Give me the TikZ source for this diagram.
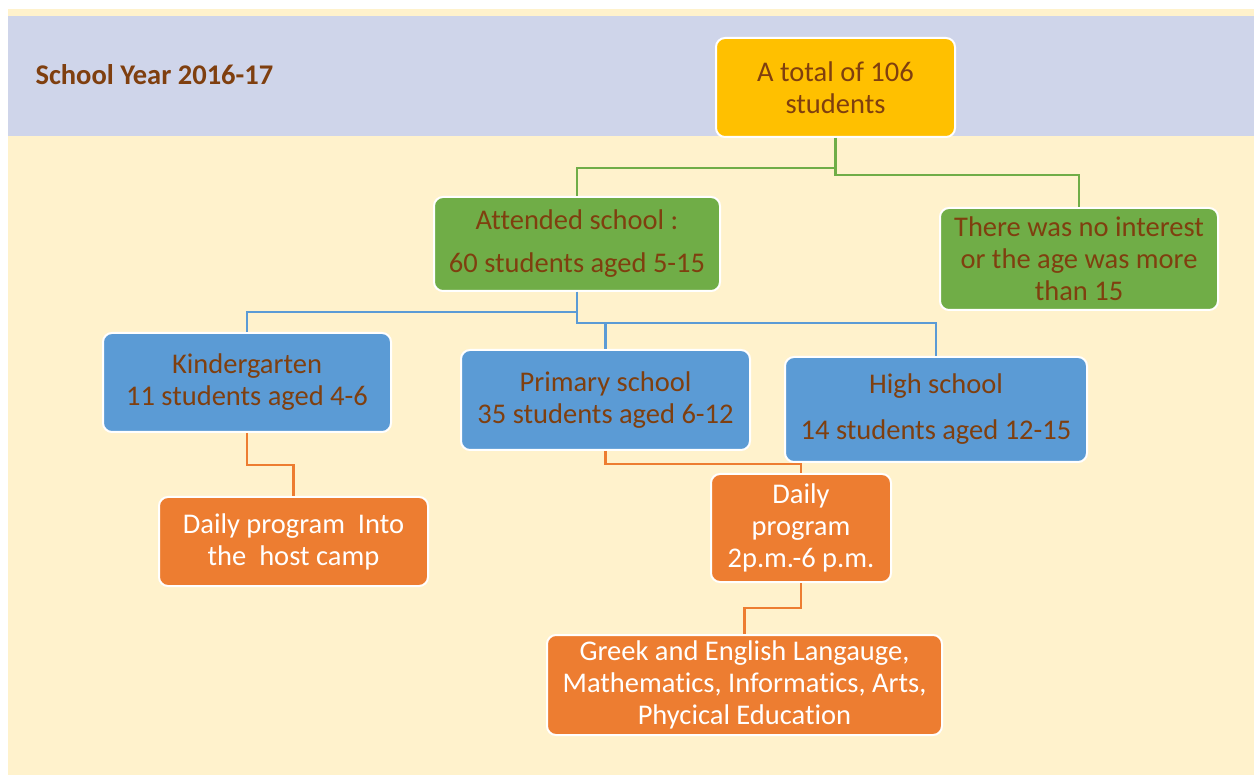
\documentclass[tikz,border=0pt]{standalone}
\usepackage{fontspec}
\setmainfont{Carlito}[Ligatures=NoCommon]
\definecolor{cream}{HTML}{FFF2CC}
\definecolor{band}{HTML}{CFD5EA}
\definecolor{gold}{HTML}{FFC000}
\definecolor{leaf}{HTML}{70AD47}
\definecolor{sky}{HTML}{5B9BD5}
\definecolor{tang}{HTML}{ED7D31}
\definecolor{brownish}{HTML}{7F3F0F}
\begin{document}
\begin{tikzpicture}[x=1pt,y=-1pt,
  box/.style={draw=white, line width=2pt, rounded corners=9pt, align=center,
    inner sep=0pt, text=brownish, font=\fontsize{28.5}{32}\selectfont},
  ybox/.style={box, fill=gold},
  gbox/.style={box, fill=leaf},
  bbox/.style={box, fill=sky},
  obox/.style={box, fill=tang, text=white},
  gline/.style={draw=leaf, line width=2.5pt},
  bline/.style={draw=sky, line width=2.5pt},
  oline/.style={draw=tang, line width=2.5pt}]
\useasboundingbox (0,0) rectangle (1254,775);
\fill[cream] (8,9) rectangle (1254,775);
\fill[band] (8,16) rectangle (1254,136);

\node[anchor=west, text=brownish, font=\bfseries\fontsize{28.5}{32}\selectfont] (title) at (32,75) {School Year 2016-17};

\node[ybox, minimum width=239pt, minimum height=99pt] (total) at (835.5,87.5) {A total of 106\\students};
\node[gbox, minimum width=286pt, minimum height=94pt] (att) at (577,244) {Attended school :\\[11pt]60 students aged 5-15};
\node[gbox, minimum width=278pt, minimum height=102pt] (noint) at (1079,259) {There was no interest\\or the age was more\\than 15};
\node[bbox, minimum width=288pt, minimum height=99pt] (kg) at (247,382.5) {Kindergarten\\11 students aged 4-6};
\node[bbox, minimum width=289pt, minimum height=100pt] (prim) at (605.5,400) {Primary school\\35 students aged 6-12};
\node[bbox, minimum width=302pt, minimum height=105pt] (high) at (936,409.5) {High school\\[14pt]14 students aged 12-15};
\node[obox, minimum width=269pt, minimum height=89pt] (dhost) at (293.5,541.5) {Daily program\ \ Into\\the\ \ host camp};
\node[obox, minimum width=180pt, minimum height=108pt] (dtwo) at (801,528) {Daily\\program\\2p.m.-6 p.m.};
\node[obox, minimum width=395pt, minimum height=100pt] (greek) at (744.5,685) {Greek and English Langauge,\\Mathematics, Informatics, Arts,\\Phycical Education};

\draw[gline] (total.south) -- ++(0,30) -| (att.north);
\draw[gline] (total.south) -- ++(0,37) -| (noint.north);
\draw[bline] (att.south) -- ++(0,20) -| (kg.north);
\draw[bline] (att.south) -- ++(0,31) -| (prim.north);
\draw[bline] (att.south) -- ++(0,31) -| (high.north);
\draw[oline] (kg.south) -- ++(0,32) -| (dhost.north);
\draw[oline] (prim.south) -- ++(0,13) -| (dtwo.north);
\draw[oline] (dtwo.south) -- ++(0,25) -| (greek.north);
\end{tikzpicture}
\end{document}
